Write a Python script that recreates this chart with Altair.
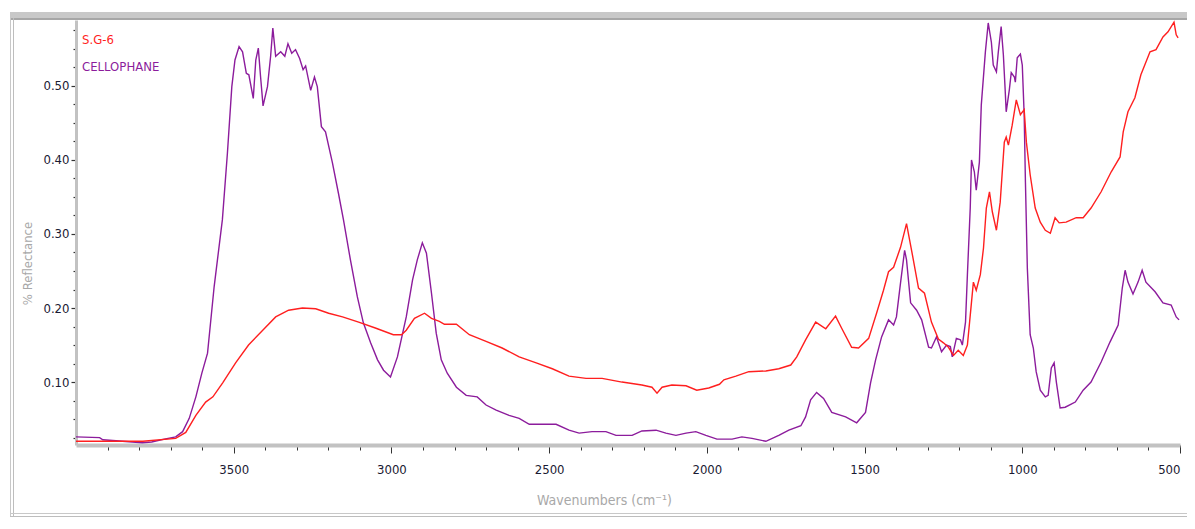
import altair as alt
import pandas as pd

# ---- data ----
cell_wn = [4000, 3925, 3915, 3790, 3760, 3720, 3684, 3662, 3641, 3620, 3601, 3583, 3562, 3536, 3520, 3506,
           3496, 3483, 3472, 3460, 3452, 3438, 3430, 3422, 3415, 3407, 3393, 3383, 3376, 3367, 3351, 3338,
           3328, 3316, 3304, 3291, 3280, 3272, 3256, 3244, 3235, 3222, 3209, 3187, 3168, 3152, 3130, 3108,
           3089, 3066, 3044, 3025, 3003, 2981, 2953, 2933, 2918, 2902, 2889, 2873, 2858, 2842, 2823, 2794,
           2763, 2728, 2700, 2668, 2627, 2595, 2563, 2478, 2437, 2405, 2364, 2320, 2288, 2237, 2206, 2161,
           2130, 2098, 2066, 2035, 2003, 1968, 1920, 1889, 1857, 1813, 1772, 1740, 1702, 1687, 1671, 1652,
           1630, 1604, 1560, 1525, 1497, 1481, 1465, 1446, 1424, 1408, 1399, 1386, 1373, 1367, 1354, 1335,
           1319, 1297, 1288, 1272, 1256, 1240, 1228, 1222, 1209, 1196, 1190, 1180, 1174, 1165, 1161, 1152,
           1146, 1136, 1130, 1117, 1108, 1098, 1092, 1082, 1076, 1067, 1060, 1054, 1051, 1041, 1035, 1025,
           1022, 1016, 1006, 1000, 994, 990, 984, 975, 965, 956, 943, 927, 918, 908, 899, 892, 880, 864,
           832, 807, 782, 750, 722, 696, 683, 674, 665, 649, 633, 620, 608, 579, 554, 528, 512, 503]
cell_val = [0.026, 0.025, 0.022, 0.018, 0.019, 0.023, 0.026, 0.033, 0.051, 0.080, 0.112, 0.139, 0.229, 0.319, 0.409, 0.499,
            0.535, 0.553, 0.546, 0.517, 0.515, 0.483, 0.535, 0.551, 0.513, 0.473, 0.499, 0.540, 0.578, 0.540, 0.546, 0.540,
            0.557, 0.544, 0.549, 0.537, 0.522, 0.527, 0.494, 0.512, 0.499, 0.445, 0.438, 0.396, 0.355, 0.319, 0.265, 0.215,
            0.180, 0.153, 0.130, 0.116, 0.107, 0.134, 0.188, 0.238, 0.265, 0.288, 0.274, 0.220, 0.166, 0.130, 0.112, 0.093,
            0.082, 0.080, 0.069, 0.062, 0.055, 0.051, 0.043, 0.043, 0.035, 0.031, 0.033, 0.033, 0.028, 0.028, 0.034, 0.035,
            0.031, 0.028, 0.031, 0.033, 0.028, 0.023, 0.023, 0.026, 0.024, 0.020, 0.028, 0.035, 0.041, 0.053, 0.076, 0.086,
            0.078, 0.059, 0.053, 0.045, 0.059, 0.099, 0.130, 0.161, 0.184, 0.177, 0.188, 0.234, 0.278, 0.265, 0.207, 0.197,
            0.184, 0.147, 0.146, 0.161, 0.141, 0.150, 0.148, 0.134, 0.159, 0.157, 0.150, 0.181, 0.245, 0.335, 0.400, 0.384,
            0.359, 0.397, 0.474, 0.546, 0.585, 0.559, 0.528, 0.519, 0.546, 0.580, 0.542, 0.492, 0.465, 0.495, 0.518, 0.512,
            0.505, 0.538, 0.543, 0.528, 0.461, 0.370, 0.254, 0.164, 0.146, 0.114, 0.089, 0.080, 0.082, 0.119, 0.126, 0.100, 0.065, 0.066,
            0.073, 0.089, 0.100, 0.127, 0.154, 0.177, 0.227, 0.251, 0.235, 0.219, 0.235, 0.251, 0.235, 0.222, 0.207, 0.204, 0.188, 0.184]

sg_wn = [4000, 3788, 3684, 3652, 3620, 3589, 3566, 3535, 3494, 3453, 3408, 3367, 3326, 3282, 3240, 3199, 3155, 3104,
         3051, 2994, 2968, 2953, 2927, 2895, 2873, 2848, 2832, 2794, 2753, 2700, 2649, 2595, 2541, 2490, 2437, 2383,
         2332, 2269, 2206, 2174, 2158, 2142, 2111, 2066, 2032, 1994, 1960, 1946, 1908, 1867, 1813, 1772, 1734, 1715,
         1687, 1655, 1623, 1592, 1573, 1541, 1519, 1487, 1462, 1440, 1424, 1408, 1386, 1367, 1351, 1329, 1310, 1288,
         1266, 1250, 1234, 1218, 1203, 1187, 1174, 1165, 1155, 1146, 1133, 1123, 1114, 1104, 1095, 1082, 1070, 1057,
         1051, 1044, 1032, 1019, 1006, 994, 987, 975, 959, 943, 927, 911, 896, 883, 861, 829, 807, 782, 750, 718, 690,
         680, 665, 643, 624, 595, 576, 554, 538, 519, 512, 506]
sg_val = [0.020, 0.020, 0.024, 0.032, 0.055, 0.073, 0.080, 0.099, 0.126, 0.150, 0.170, 0.188, 0.197, 0.200, 0.199, 0.193, 0.188, 0.181,
          0.173, 0.164, 0.164, 0.170, 0.186, 0.193, 0.186, 0.182, 0.178, 0.178, 0.164, 0.155, 0.146, 0.134, 0.126, 0.118, 0.108, 0.105,
          0.105, 0.100, 0.096, 0.093, 0.085, 0.093, 0.096, 0.095, 0.089, 0.092, 0.097, 0.103, 0.108, 0.114, 0.115, 0.118, 0.123, 0.134,
          0.157, 0.181, 0.172, 0.189, 0.173, 0.147, 0.146, 0.159, 0.193, 0.224, 0.249, 0.255, 0.282, 0.314, 0.278, 0.227, 0.220, 0.181,
          0.158, 0.153, 0.147, 0.136, 0.143, 0.136, 0.150, 0.190, 0.235, 0.224, 0.245, 0.281, 0.335, 0.357, 0.330, 0.305, 0.343, 0.424,
          0.431, 0.420, 0.447, 0.481, 0.461, 0.468, 0.424, 0.380, 0.335, 0.316, 0.305, 0.301, 0.322, 0.315, 0.316, 0.322, 0.322, 0.335, 0.357, 0.384, 0.404,
          0.438, 0.465, 0.484, 0.515, 0.546, 0.549, 0.566, 0.573, 0.586, 0.569, 0.565]

series_names = ["S.G-6", "CELLOPHANE"]
series_colors = ["#ff1f1f", "#8c1c9c"]

x_ticks = [3900, 3800, 3700, 3600, 3500, 3400, 3300, 3200, 3100, 3000, 2900, 2800, 2700, 2600, 2500,
           2400, 2300, 2200, 2100, 2000, 1900, 1800, 1700, 1600, 1500, 1400, 1300, 1200, 1100, 1000,
           900, 800, 700, 600, 500]
y_ticks = [0.025, 0.05, 0.075, 0.1, 0.125, 0.15, 0.175, 0.2, 0.225, 0.25, 0.275, 0.3, 0.325, 0.35,
           0.375, 0.4, 0.425, 0.45, 0.475, 0.5, 0.525, 0.55, 0.575]

df = pd.concat([
    pd.DataFrame({"wavenumber": cell_wn, "value": cell_val, "series": "CELLOPHANE"}),
    pd.DataFrame({"wavenumber": sg_wn, "value": sg_val, "series": "S.G-6"}),
])

FONT = "DejaVu Sans Condensed, Liberation Sans Narrow, Liberation Sans, sans-serif"
W, H = 1104, 425

x_axis = alt.Axis(
    values=x_ticks, grid=False,
    labelExpr="datum.value % 500 == 0 ? datum.label : ''",
    format="d",
    tickSize={"condition": {"test": "datum.value % 500 == 0", "value": 8}, "value": 5},
    tickColor="#333333", tickWidth=1,
    domainColor="#c2c2c2", domainWidth=4,
    labelFont=FONT, labelFontSize=13, labelColor="#1a1a33", labelPadding=10,
    title="Wavenumbers (cm⁻¹)", titleFont=FONT, titleFontSize=14, titleFontWeight="normal",
    titleColor="#a8a8a8", titleX=528, titleY=55, titleBaseline="middle", titleAlign="center",
)
y_axis = alt.Axis(
    values=y_ticks, grid=False,
    labelExpr="round(datum.value*40) % 4 == 0 ? format(datum.value, '.2f') : ''",
    tickSize={"condition": {"test": "round(datum.value*40) % 4 == 0", "value": 5}, "value": 3},
    tickColor="#333333", tickWidth=1.2,
    domainColor="#c2c2c2", domainWidth=3,
    labelFont=FONT, labelFontSize=13, labelColor="#1a1a33", labelPadding=2,
    title="% Reflectance", titleFont=FONT, titleFontSize=13, titleFontWeight="normal",
    titleColor="#a8a8a8", titleX=-49, titleY=243, titleBaseline="middle", titleAlign="center",
)

lines = alt.Chart(df).mark_line(strokeWidth=1.4, clip=True).encode(
    x=alt.X("wavenumber:Q", scale=alt.Scale(domain=[500, 4000], reverse=True, nice=False, zero=False), axis=x_axis),
    y=alt.Y("value:Q", scale=alt.Scale(domain=[0.015, 0.589], nice=False, zero=False), axis=y_axis),
    color=alt.Color("series:N", scale=alt.Scale(domain=series_names, range=series_colors), legend=None),
)

one = alt.Data(values=[{"k": 1}])
top_band = alt.Chart(one).mark_rect(color="#c8c8c8").encode(
    x=alt.value(-66), x2=alt.value(W + 7), y=alt.value(-8), y2=alt.value(-2))
top_line = alt.Chart(one).mark_rect(color="#a6a6a6").encode(
    x=alt.value(-66), x2=alt.value(W + 7), y=alt.value(-2), y2=alt.value(0))
left_line1 = alt.Chart(one).mark_rect(color="#c8c8c8").encode(
    x=alt.value(-66), x2=alt.value(-65), y=alt.value(-8), y2=alt.value(H + 72))
left_line2 = alt.Chart(one).mark_rect(color="#bdbdbd").encode(
    x=alt.value(-63), x2=alt.value(-62), y=alt.value(-2), y2=alt.value(H + 72))
bottom_line1 = alt.Chart(one).mark_rect(color="#c8c8c8").encode(
    x=alt.value(-66), x2=alt.value(W + 7), y=alt.value(H + 68), y2=alt.value(H + 69))
bottom_line2 = alt.Chart(one).mark_rect(color="#bdbdbd").encode(
    x=alt.value(-66), x2=alt.value(W + 7), y=alt.value(H + 71), y2=alt.value(H + 72))

lab1 = alt.Chart(one).mark_text(text=series_names[0], color=series_colors[0], align="left",
                                baseline="middle", font=FONT, fontSize=13).encode(
    x=alt.value(6), y=alt.value(20))
lab2 = alt.Chart(one).mark_text(text=series_names[1], color=series_colors[1], align="left",
                                baseline="middle", font=FONT, fontSize=13).encode(
    x=alt.value(6), y=alt.value(47))

chart = alt.layer(top_band, top_line, left_line1, left_line2, bottom_line1, bottom_line2,
                  lines, lab1, lab2).properties(
    width=W, height=H,
    autosize=alt.AutoSizeParams(type="none"),
    padding={"left": 68, "top": 12, "right": 7, "bottom": 72},
    background="white",
).configure_view(strokeWidth=0)

chart.save("out.html", embed_options={"renderer": "svg", "actions": False})
